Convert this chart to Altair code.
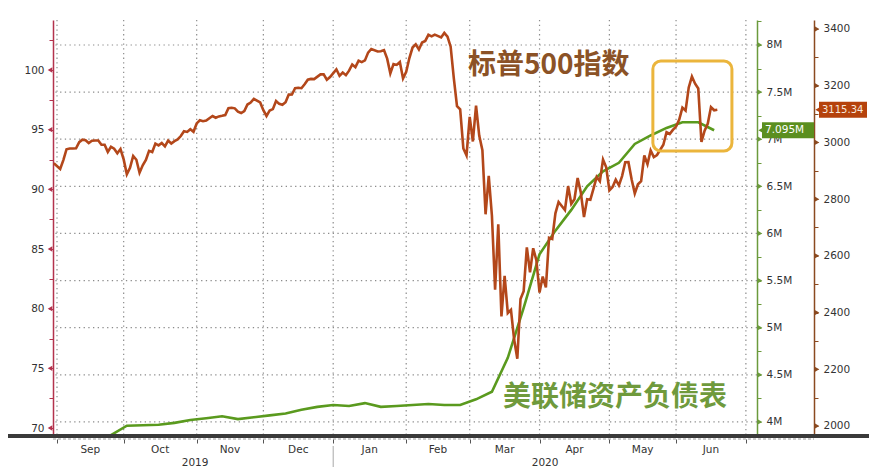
import altair as alt
import pandas as pd

# ---------------- data ----------------
# S&P 500 daily closes, 2019-08-30 .. 2020-06-18 (trading days)
sp500 = [
    2926.46,
    # Sep 2019
    2906.27, 2937.78, 2976.00, 2978.71, 2978.43, 2979.39, 3000.93, 3009.57, 3007.39, 2997.96,
    3005.70, 3006.73, 3006.79, 2992.07, 2991.78, 2966.60, 2984.87, 2977.62, 2961.79, 2976.74,
    # Oct
    2940.25, 2887.61, 2910.63, 2952.01, 2938.79, 2893.06, 2919.40, 2938.13, 2970.27, 2966.15,
    2995.68, 2989.69, 2997.95, 2986.20, 3006.72, 2995.99, 3004.52, 3010.29, 3022.55, 3039.42,
    3036.89, 3046.77, 3037.56,
    # Nov
    3066.91, 3078.27, 3074.62, 3076.78, 3085.18, 3093.08, 3087.01, 3091.84, 3094.04, 3096.63,
    3120.46, 3122.03, 3120.18, 3108.46, 3103.54, 3110.29, 3133.64, 3140.52, 3153.63, 3140.98,
    # Dec
    3113.87, 3093.20, 3112.76, 3117.43, 3145.91, 3135.96, 3132.52, 3141.63, 3168.57, 3168.80,
    3191.45, 3192.52, 3191.14, 3205.37, 3221.22, 3224.01, 3223.38, 3239.91, 3240.02, 3221.29,
    3230.78,
    # Jan 2020
    3257.85, 3234.85, 3246.28, 3237.18, 3253.05, 3274.70, 3265.35, 3288.13, 3283.15, 3289.29,
    3316.81, 3329.62, 3320.79, 3321.75, 3325.54, 3295.47, 3243.63, 3276.24, 3273.40, 3283.66,
    3225.52,
    # Feb
    3248.92, 3297.59, 3334.69, 3345.78, 3327.71, 3352.09, 3357.75, 3379.45, 3373.94, 3380.16,
    3370.29, 3386.15, 3373.23, 3337.75, 3225.89, 3128.21, 3116.39, 2978.76, 2954.22,
    # Mar
    3090.23, 3003.37, 3130.12, 3023.94, 2972.37, 2746.56, 2882.23, 2741.38, 2480.64, 2711.02,
    2386.13, 2529.19, 2398.10, 2409.39, 2304.92, 2237.40, 2447.33, 2475.56, 2630.07, 2541.47,
    2626.65, 2584.59,
    # Apr
    2470.50, 2526.90, 2488.65, 2663.68, 2659.41, 2749.98, 2789.82, 2761.63, 2846.06, 2783.36,
    2799.55, 2874.56, 2823.16, 2736.56, 2799.31, 2797.80, 2836.74, 2878.48, 2863.39, 2939.51,
    2912.43,
    # May
    2830.71, 2842.74, 2868.44, 2848.42, 2881.19, 2929.80, 2930.32, 2870.12, 2820.00, 2852.50,
    2863.70, 2953.91, 2922.94, 2971.61, 2948.51, 2955.45, 2991.77, 3036.13, 3029.73, 3044.31,
    # Jun
    3055.73, 3080.82, 3122.87, 3112.35, 3193.93, 3232.39, 3207.18, 3190.14, 3002.10, 3041.31,
    3066.59, 3124.74, 3113.49, 3115.34,
]
market_holidays = ["2019-09-02", "2019-11-28", "2019-12-25", "2020-01-01",
                   "2020-01-20", "2020-02-17", "2020-04-10", "2020-05-25"]

# Fed balance sheet, in M (millions of USD millions -> shown as "M"), weekly
fed_dates = ["2019-09-04", "2019-09-11", "2019-09-18", "2019-09-25", "2019-10-02", "2019-10-09",
             "2019-10-16", "2019-10-23", "2019-10-30", "2019-11-06", "2019-11-13", "2019-11-20",
             "2019-11-27", "2019-12-04", "2019-12-11", "2019-12-18", "2019-12-25", "2020-01-01",
             "2020-01-08", "2020-01-15", "2020-01-22", "2020-01-29", "2020-02-05", "2020-02-12",
             "2020-02-19", "2020-02-26", "2020-03-04", "2020-03-11", "2020-03-18", "2020-03-25",
             "2020-04-01", "2020-04-08", "2020-04-15", "2020-04-22", "2020-04-29", "2020-05-06",
             "2020-05-13", "2020-05-20", "2020-05-27", "2020-06-03", "2020-06-10", "2020-06-17"]
fed_values = [3.76, 3.77, 3.84, 3.86, 3.96, 3.965, 3.97, 3.99, 4.02, 4.04, 4.06, 4.03,
              4.05, 4.07, 4.09, 4.13, 4.16, 4.18, 4.17, 4.20, 4.16, 4.17, 4.18, 4.19,
              4.18, 4.18, 4.24, 4.32, 4.68, 5.21, 5.78, 6.03, 6.25, 6.50, 6.66, 6.75,
              6.95, 7.04, 7.12, 7.18, 7.18, 7.095]

month_names = ["Sep", "Oct", "Nov", "Dec", "Jan", "Feb", "Mar", "Apr", "May", "Jun"]
month_start_dates = ["2019-09-02", "2019-10-01", "2019-11-01", "2019-12-02", "2020-01-01",
                     "2020-02-03", "2020-03-02", "2020-04-01", "2020-05-01", "2020-06-01",
                     "2020-07-01"]
years = ["2019", "2020"]

left_ticks = [70, 72.5, 75, 77.5, 80, 82.5, 85, 87.5, 90, 92.5, 95, 97.5, 100, 102.5]
left_major = [70, 75, 80, 85, 90, 95, 100]
fed_ticks = [4.0, 4.25, 4.5, 4.75, 5.0, 5.25, 5.5, 5.75, 6.0, 6.25, 6.5, 6.75, 7.0, 7.25,
             7.5, 7.75, 8.0, 8.25]
fed_major = [4.0, 4.5, 5.0, 5.5, 6.0, 6.5, 7.0, 7.5, 8.0]
sp_ticks = [2000, 2100, 2200, 2300, 2400, 2500, 2600, 2700, 2800, 2900, 3000, 3100, 3200,
            3300, 3400]
sp_major = [2000, 2200, 2400, 2600, 2800, 3000, 3200, 3400]

sp_label = "标普500指数"
fed_label = "美联储资产负债表"
sp_last_text = "3115.34"
fed_last_text = "7.095M"
# highlight box: weekday-index range and S&P range
box_i = [188.7]
box_i2 = [213.6]
box_v = [3287]
box_v2 = [2970]

# ---------------- derived tables ----------------
# x axis of the reference runs on weekdays (holidays keep their slot)
trading = pd.bdate_range("2019-08-30", "2020-06-18", freq="C", holidays=market_holidays)
assert len(trading) == len(sp500), (len(trading), len(sp500))
weekdays = pd.bdate_range("2019-08-30", "2020-07-01")
pos = {d.strftime("%Y-%m-%d"): k for k, d in enumerate(weekdays)}

sp_df = pd.DataFrame({"i": [pos[d.strftime("%Y-%m-%d")] for d in trading], "v": sp500})
fed_df = pd.DataFrame({"i": [pos[d] for d in fed_dates], "v": fed_values})

X_MIN, X_MAX = -0.26, 221.5
month_ticks = [pos[d] for d in month_start_dates]
month_mid = [(month_ticks[k] + month_ticks[k + 1]) / 2 for k in range(len(month_names))]
months_df = pd.DataFrame({"i": month_mid, "label": month_names})
year_df = pd.DataFrame({"i": [(month_ticks[0] + month_ticks[4]) / 2,
                              (month_ticks[4] + X_MAX) / 2], "label": years})

W, H = 704, 416
FONT = "DejaVu Sans"
RED = "#b3334d"
GREEN_AX = "#6b9a3c"
BROWN_AX = "#8b4a20"
SP_LINE = "#b3471a"
FED_LINE = "#5a9a1e"

x_enc = alt.X("i:Q", scale=alt.Scale(domain=[X_MIN, X_MAX], nice=False, zero=False),
              axis=alt.Axis(values=month_ticks, labels=False, domain=False, grid=False,
                            ticks=True, tickSize=4, tickColor="#555", offset=3, title=None))

# ---------------- vertical grid + x axis ----------------
vgrid = alt.Chart(pd.DataFrame({"i": month_ticks})).mark_rule(
    color="#8c8c8c", strokeWidth=1.2, strokeDash=[1.3, 3.4]).encode(x=x_enc)

# ---------------- left axis (red) ----------------
y_left = alt.Y("v:Q", scale=alt.Scale(domain=[69.33, 104.19], nice=False, zero=False),
               axis=alt.Axis(orient="left", values=left_ticks, title=None, grid=False,
                             labelExpr="datum.value % 5 == 0 ? '' + datum.value : ''",
                             domainColor=RED, domainWidth=1.5, tickColor=RED, tickSize=4,
                             labelPadding=5, labelOverlap=False, labelFlush=False))
left_tri = alt.Chart(pd.DataFrame({"v": left_major})).mark_point(
    shape="triangle-left", filled=True, size=28, color=RED, opacity=1).encode(
    y=y_left, x=alt.value(-3))

# ---------------- green group (Fed) ----------------
y_fed = alt.Y("v:Q", scale=alt.Scale(domain=[3.851, 8.265], nice=False, zero=False),
              axis=alt.Axis(orient="right", values=fed_ticks, title=None, grid=False,
                            labelExpr="(round(datum.value*100) % 50 == 0) ? datum.value + 'M' : ''",
                            domainColor=GREEN_AX, domainWidth=1.5, tickColor=GREEN_AX, tickSize=4,
                            labelPadding=5, labelOverlap=False, labelFlush=False))
hgrid = alt.Chart(pd.DataFrame({"v": fed_major})).mark_rule(
    color="#8c8c8c", strokeWidth=1.2, strokeDash=[1.3, 3.4]).encode(y=y_fed)
fed_line = alt.Chart(fed_df).mark_line(color=FED_LINE, strokeWidth=2.6, clip=True).encode(
    x=x_enc, y=y_fed)
fed_tri = alt.Chart(pd.DataFrame({"v": fed_major})).mark_point(
    shape="triangle-right", filled=True, size=28, color=GREEN_AX, opacity=1).encode(
    y=y_fed, x=alt.value(W + 3))
fed_last = pd.DataFrame({"v": [fed_values[-1]], "t": [fed_last_text]})
fed_tag = alt.Chart(fed_last).mark_rule(color="#5b8f1f", strokeWidth=16).encode(
    y=y_fed, x=alt.value(W + 5), x2=alt.value(W + 57))
fed_tag_arrow = alt.Chart(fed_last).mark_point(
    shape="triangle-left", filled=True, size=70, color="#5b8f1f", opacity=1).encode(
    y=y_fed, x=alt.value(W + 5))
fed_tag_text = alt.Chart(fed_last).mark_text(
    color="white", font=FONT, fontSize=10.5, align="left", baseline="middle").encode(
    y=y_fed, x=alt.value(W + 8), text="t:N")
green_group = alt.layer(hgrid, fed_line, fed_tri, fed_tag, fed_tag_arrow, fed_tag_text)

# ---------------- brown group (S&P) ----------------
y_sp = alt.Y("v:Q", scale=alt.Scale(domain=[1964.7, 3431.7], nice=False, zero=False),
             axis=alt.Axis(orient="right", offset=57, values=sp_ticks, title=None, grid=False,
                           labelExpr="datum.value % 200 == 0 ? '' + datum.value : ''",
                           domainColor=BROWN_AX, domainWidth=1.5, tickColor=BROWN_AX, tickSize=4,
                           labelPadding=5, labelOverlap=False, labelFlush=False))
sp_line = alt.Chart(sp_df).mark_line(color=SP_LINE, strokeWidth=2.6, clip=True).encode(
    x=x_enc, y=y_sp)
sp_tri = alt.Chart(pd.DataFrame({"v": sp_major})).mark_point(
    shape="triangle-right", filled=True, size=28, color=BROWN_AX, opacity=1).encode(
    y=y_sp, x=alt.value(W + 60))
sp_last = pd.DataFrame({"v": [sp500[-1]], "t": [sp_last_text]})
sp_tag = alt.Chart(sp_last).mark_rule(color="#b5420c", strokeWidth=16).encode(
    y=y_sp, x=alt.value(W + 62), x2=alt.value(W + 110))
sp_tag_arrow = alt.Chart(sp_last).mark_point(
    shape="triangle-left", filled=True, size=70, color="#b5420c", opacity=1).encode(
    y=y_sp, x=alt.value(W + 62))
sp_tag_text = alt.Chart(sp_last).mark_text(
    color="#f7e9df", font=FONT, fontSize=10, align="left", baseline="middle").encode(
    y=y_sp, x=alt.value(W + 65), text="t:N")
box_df = pd.DataFrame({"i": box_i, "i2": box_i2, "v": box_v, "v2": box_v2})
hl_box = alt.Chart(box_df).mark_rect(
    filled=False, color="#ebb53c", strokeWidth=3, cornerRadius=8).encode(
    x=x_enc, x2="i2:Q", y=y_sp, y2="v2:Q")
brown_group = alt.layer(sp_line, sp_tri, sp_tag, sp_tag_arrow, sp_tag_text, hl_box)

# ---------------- overlays ----------------
bottom_line = alt.Chart(pd.DataFrame({"a": [0]})).mark_rule(
    color="#3a3a3a", strokeWidth=4).encode(
    x=alt.value(-45), x2=alt.value(W + 112), y=alt.value(H))
bottom_thin = alt.Chart(pd.DataFrame({"a": [0]})).mark_rule(
    color="#9a9a9a", strokeWidth=1, strokeDash=[3, 2]).encode(
    x=alt.value(0), x2=alt.value(W + 57), y=alt.value(H + 3))
sep = alt.Chart(pd.DataFrame({"i": [month_ticks[4]]})).mark_rule(
    color="#a8a8a8", strokeWidth=1).encode(x=x_enc, y=alt.value(H + 10), y2=alt.value(H + 31))
month_text = alt.Chart(months_df).mark_text(
    font=FONT, fontSize=10.5, color="#333", baseline="middle").encode(
    x=x_enc, y=alt.value(H + 14), text="label:N")
year_text = alt.Chart(year_df).mark_text(
    font=FONT, fontSize=10.5, color="#333", baseline="middle").encode(
    x=x_enc, y=alt.value(H + 27), text="label:N")
sp_title = alt.Chart(pd.DataFrame({"t": [sp_label]})).mark_text(
    font="Noto Sans CJK SC", fontSize=28, fontWeight="bold", color="#8b5226",
    align="left", baseline="middle").encode(x=alt.value(415), y=alt.value(46), text="t:N")
fed_title = alt.Chart(pd.DataFrame({"t": [fed_label]})).mark_text(
    font="Noto Sans CJK SC", fontSize=28, fontWeight="bold", color="#6f9a3c",
    align="left", baseline="middle").encode(x=alt.value(450), y=alt.value(378), text="t:N")

chart = alt.layer(
    vgrid, left_tri, green_group, brown_group,
    bottom_line, bottom_thin, sep, month_text, year_text, sp_title, fed_title,
).resolve_scale(y="independent").properties(
    width=W, height=H,
    padding={"left": 45, "top": 12, "right": 125, "bottom": 34},
    autosize=alt.AutoSizeParams(type="none"),
).configure_view(stroke=None).configure_axis(
    labelFont=FONT, labelFontSize=10.5, labelColor="#333")

chart.save("out.html", embed_options={"renderer": "svg", "actions": False})
